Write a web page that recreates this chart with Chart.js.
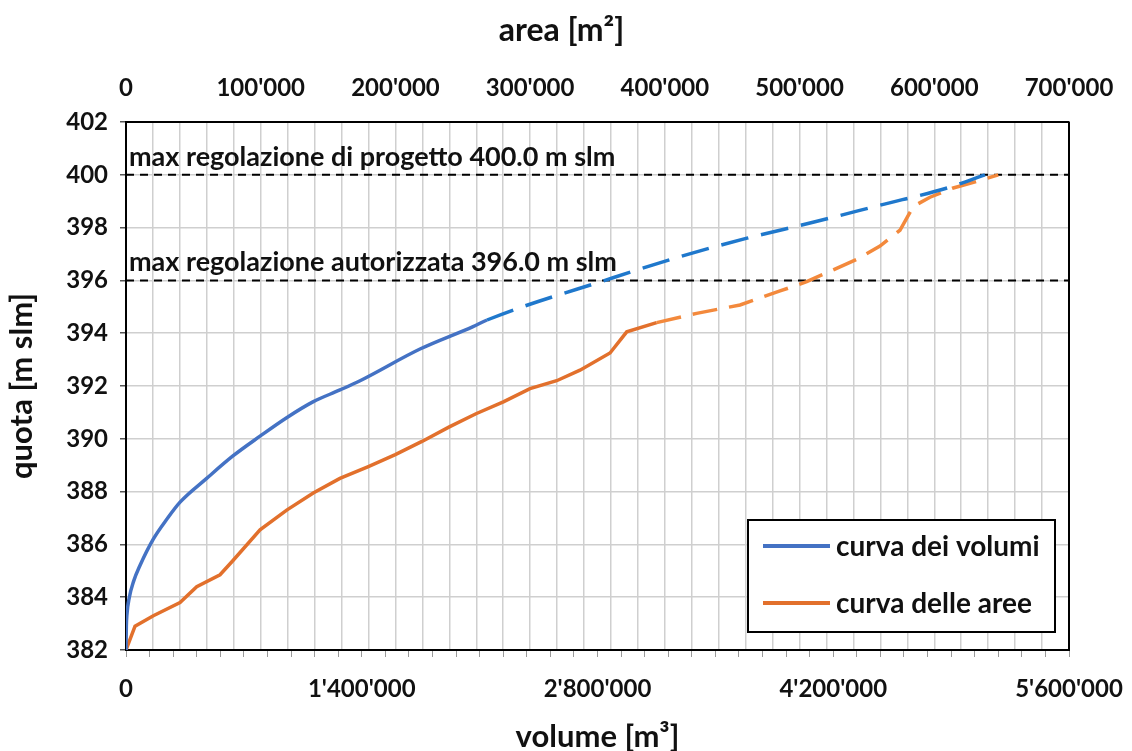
<!DOCTYPE html>
<html>
<head>
<meta charset="utf-8">
<script src="https://cdn.jsdelivr.net/npm/chart.js@4.4.0/dist/chart.umd.min.js"></script>
<style>
  html, body { margin: 0; padding: 0; background: #fff; }
  #wrap { width: 1132px; height: 751px; }
</style>
</head>
<body>
<div id="wrap"><canvas id="myChart" width="1132" height="751"></canvas></div>
<script>
// curva dei volumi: volume [m3] vs quota [m slm]
const volume = [0, 2000, 5000, 20000, 45000, 83000, 162000, 242000, 321000, 479000, 635000, 796000, 954000,
  1110000, 1271000, 1390000, 1746000, 2061000, 2144000, 2892000, 3290000, 3688000, 4080000, 4478000, 4876000, 5101000];
const quotaVol = [382, 382.9, 383.3, 384.0, 384.6, 385.2, 386.2, 386.95, 387.6, 388.5, 389.35, 390.1, 390.8,
  391.4, 391.85, 392.2, 393.4, 394.25, 394.5, 396.1, 396.9, 397.6, 398.2, 398.85, 399.5, 400];

// curva delle aree: area [m2] vs quota [m slm]
const area = [0, 6700, 20300, 40100, 52500, 69800, 79600, 99500, 119300, 139000, 158800, 179900, 199900,
  219700, 240000, 259800, 280100, 299900, 319700, 337000, 359300, 371700, 393900, 423600, 455800, 485500,
  505300, 525000, 542400, 559700, 574500, 584400, 596800, 614100, 631500, 647500];
const quotaArea = [382, 382.9, 383.3, 383.8, 384.4, 384.85, 385.4, 386.55, 387.3, 387.95, 388.5, 388.95, 389.4,
  389.9, 390.45, 390.95, 391.4, 391.9, 392.2, 392.6, 393.25, 394.05, 394.4, 394.75, 395.07, 395.6,
  395.95, 396.4, 396.8, 397.3, 397.9, 398.8, 399.15, 399.5, 399.75, 400];

// livelli di regolazione
const refLevels = [400, 396];
const refLabels = ['max regolazione di progetto 400.0 m slm', 'max regolazione autorizzata 396.0 m slm'];

// ticks
const yTicks = [382, 402, 2];
const volTicks = [0, 5600000, 140000, 1400000];
const areaTicks = [0, 700000, 20000, 100000];

// quota above which the curves are extrapolated (dashed)
const dashFromVol = 394.4;
const dashFromArea = 394.3;

const FONT = 'Lato';
const fmt = n => Math.round(n).toString().replace(/\B(?=(\d{3})+(?!\d))/g, "'");

const BLUE = '#4472C4', BLUE_D = '#1F78CC';
const ORANGE = '#E2702C', ORANGE_D = '#F3893C';

function pts(xs, ys) { return xs.map((x, i) => ({x: x, y: ys[i]})); }

const datasets = [
  {
    label: 'curva dei volumi',
    data: pts(volume, quotaVol),
    xAxisID: 'x', yAxisID: 'y',
    borderColor: BLUE, borderWidth: 3.5,
    cubicInterpolationMode: 'monotone',
    segment: {
      borderDash: c => c.p0.parsed.y >= dashFromVol ? [28, 13] : undefined,
      borderColor: c => c.p0.parsed.y >= dashFromVol ? BLUE_D : BLUE
    }
  },
  {
    label: 'curva delle aree',
    data: pts(area, quotaArea),
    xAxisID: 'x2', yAxisID: 'y',
    borderColor: ORANGE, borderWidth: 3.5,
    segment: {
      borderDash: c => c.p0.parsed.y >= dashFromArea ? [25, 12] : undefined,
      borderColor: c => c.p0.parsed.y >= dashFromArea ? ORANGE_D : ORANGE
    }
  }
];
refLevels.forEach(lv => {
  datasets.push({
    label: '_ref',
    data: [{x: volTicks[0], y: lv}, {x: volTicks[1], y: lv}],
    xAxisID: 'x', yAxisID: 'y',
    borderColor: '#000', borderWidth: 2, borderDash: [8, 6]
  });
});

const overlay = {
  id: 'overlay',
  afterDatasetsDraw(chart) {
    const {ctx, chartArea, scales} = chart;
    ctx.save();
    // right frame
    ctx.strokeStyle = '#000';
    ctx.lineWidth = 2;
    ctx.beginPath();
    ctx.moveTo(chartArea.right, chartArea.top);
    ctx.lineTo(chartArea.right, chartArea.bottom);
    ctx.stroke();

    // top axis title (sits left of the plot centre in the original)
    ctx.font = 'bold 32px ' + FONT;
    ctx.fillStyle = '#111';
    ctx.textAlign = 'center';
    ctx.textBaseline = 'middle';
    ctx.fillText('area [m²]', (chartArea.left + chartArea.right) / 2 - 36, 31);

    ctx.font = 'bold 27px ' + FONT;
    ctx.textBaseline = 'alphabetic';
    ctx.textAlign = 'left';
    refLevels.forEach((lv, i) => {
      const y = scales.y.getPixelForValue(lv);
      ctx.fillText(refLabels[i], chartArea.left + 3, y - 9);
    });

    // legend box
    const bx = chartArea.right - 321, by = chartArea.bottom - 130, bw = 307, bh = 112;
    ctx.fillStyle = '#fff';
    ctx.fillRect(bx, by, bw, bh);
    ctx.lineWidth = 2;
    ctx.strokeStyle = '#000';
    ctx.strokeRect(bx, by, bw, bh);
    ctx.font = 'bold 28px ' + FONT;
    ctx.textBaseline = 'middle';
    chart.data.datasets.filter(d => d.label !== '_ref').forEach((d, i) => {
      const y = by + 26 + i * 57;
      ctx.strokeStyle = d.borderColor;
      ctx.lineWidth = 4;
      ctx.beginPath();
      ctx.moveTo(bx + 15, y);
      ctx.lineTo(bx + 82, y);
      ctx.stroke();
      ctx.fillStyle = '#111';
      ctx.fillText(d.label, bx + 88, y + 1);
    });
    ctx.restore();
  }
};

const tickFont = {family: FONT, size: 24, weight: 'bold'};
const titleFont = {family: FONT, size: 31, weight: 'bold', lineHeight: 0.9};

function noPad(s) { s.paddingLeft = 0; s.paddingRight = 0; }

new Chart(document.getElementById('myChart'), {
  type: 'scatter',
  data: {datasets: datasets},
  options: {
    responsive: false,
    animation: false,
    showLine: true,
    elements: {point: {radius: 0, hoverRadius: 0}, line: {tension: 0}},
    layout: {padding: {left: 0, right: 63, top: 0, bottom: 0}},
    plugins: {legend: {display: false}, tooltip: {enabled: false}},
    scales: {
      y: {
        position: 'left',
        min: yTicks[0], max: yTicks[1],
        ticks: {stepSize: yTicks[2], color: '#111', font: tickFont, padding: 12},
        grid: {color: '#cfcfcf', lineWidth: 1.5, tickLength: 6, tickColor: '#555'},
        border: {display: true, color: '#000', width: 2},
        title: {display: true, text: 'quota [m slm]', color: '#111', font: titleFont, padding: {top: 8}},
        afterFit: s => { s.width = 126; }
      },
      x: {
        position: 'bottom',
        min: volTicks[0], max: volTicks[1],
        ticks: {
          stepSize: volTicks[2], autoSkip: false, maxRotation: 0, color: '#111', font: tickFont, padding: 18,
          callback: v => (Math.round(v) % volTicks[3] === 0 ? fmt(v) : '')
        },
        grid: {drawOnChartArea: false, tickLength: 7, tickColor: '#999', lineWidth: 1},
        border: {display: true, color: '#000', width: 2},
        title: {display: true, text: 'volume [m³]', color: '#111', font: titleFont, padding: {bottom: 0}},
        afterFit: s => { s.height = 101; noPad(s); }
      },
      x2: {
        position: 'top',
        min: areaTicks[0], max: areaTicks[1],
        ticks: {
          stepSize: areaTicks[2], autoSkip: false, maxRotation: 0, color: '#111', font: tickFont, padding: 19,
          callback: v => (Math.round(v) % areaTicks[3] === 0 ? fmt(v) : '')
        },
        grid: {color: '#cfcfcf', lineWidth: 1.5, drawTicks: false},
        border: {display: true, color: '#000', width: 2},
        title: {display: false},
        afterFit: s => { s.height = 122; noPad(s); }
      }
    }
  },
  plugins: [overlay]
});
</script>
</body>
</html>
